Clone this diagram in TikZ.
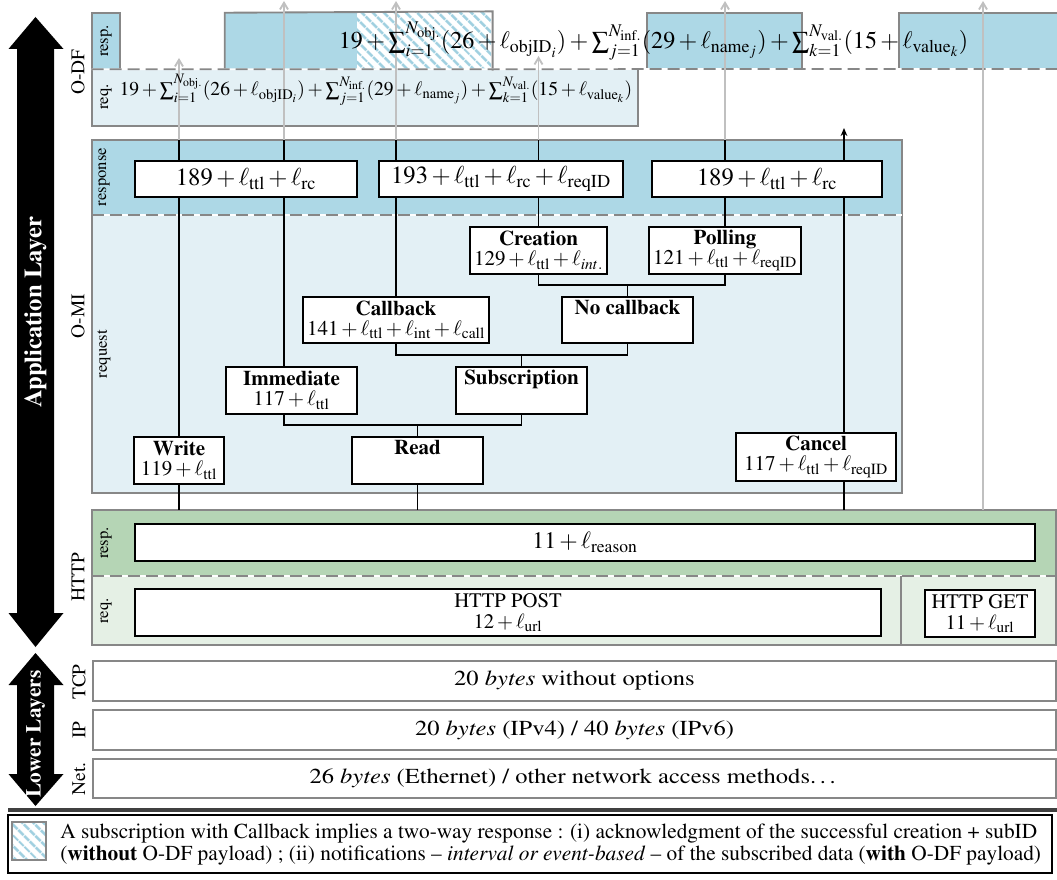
\documentclass[tikz,border=0pt]{standalone}
\usepackage[T1]{fontenc}
\usepackage{mathptmx}
\usetikzlibrary{arrows.meta,patterns.meta}

\definecolor{respblue}{RGB}{173,216,230}
\definecolor{reqblue}{RGB}{227,240,245}
\definecolor{respgreen}{RGB}{181,213,181}
\definecolor{reqgreen}{RGB}{229,240,229}
\definecolor{framegray}{RGB}{135,135,135}
\definecolor{linkgray}{RGB}{192,192,192}
\definecolor{hatchblue}{RGB}{160,208,224}

\newcommand{\ttl}{\ell_{\mathrm{ttl}}}
\newcommand{\rc}{\ell_{\mathrm{rc}}}
\newcommand{\reqid}{\ell_{\mathrm{reqID}}}
\newcommand{\odfsize}{19+\sum_{i=1}^{N_{\mathrm{obj.}}}(26+\ell_{\mathrm{objID}_i})+\sum_{j=1}^{N_{\mathrm{inf.}}}(29+\ell_{\mathrm{name}_j})+\sum_{k=1}^{N_{\mathrm{val.}}}(15+\ell_{\mathrm{value}_k})}
\newcommand{\wide}[1]{\scalebox{1.15}[1]{#1}}

\tikzset{
  x=0.75pt, y=-0.75pt,
  % rectangle given by its corners x1/y1/x2/y2
  span/.style args={#1/#2/#3/#4}{minimum width={(#3-#1)*0.75pt}, minimum height={(#4-#2)*0.75pt},
    at={({(#1+#3)/2},{(#2+#4)/2})}},
  band/.style={inner sep=0, draw=none},
  framed/.style={draw=framegray, line width=1.4pt},
  sep/.style={framegray, line width=1.3pt, dash pattern=on 9pt off 4.5pt},
  sepbg/.style={white, line width=1.3pt},
  msgbox/.style={draw=black, fill=white, line width=1.4pt, inner sep=0, align=center},
  omitext/.style={font=\fontsize{15.75}{15}\selectfont},
  resptext/.style={font=\fontsize{18.5}{20}\selectfont},
  lowbox/.style={draw=framegray, fill=white, line width=1.4pt, inner sep=0, font=\fontsize{16}{18}\selectfont},
  sectlabel/.style={rotate=90, inner sep=0, font=\fontsize{14.5}{16}\selectfont},
  sublabel/.style={rotate=90, inner sep=0, font=\fontsize{12.5}{14}\selectfont},
  conn/.style={black, line width=1.4pt},
  uplink/.style={linkgray, line width=1.4pt, -{Straight Barb[length=5pt,width=6pt]}},
  hatch/.style={pattern={Lines[angle=-45,distance=6.5pt,line width=2.4pt]}, pattern color=hatchblue},
  bigarrow/.style={fill=black, draw=none},
}

\begin{document}
\begin{tikzpicture}
\useasboundingbox (0,0) rectangle (1057,880);

% ---------- layer arrows ----------
\fill[bigarrow] (35.5,17) -- (63.5,49) -- (54,49) -- (54,613) -- (63.5,613) -- (35.5,647)
  -- (8.5,613) -- (17,613) -- (17,49) -- (8.5,49) -- cycle;
\node[rotate=90, text=white, font=\bfseries\fontsize{18.5}{20}\selectfont, inner sep=0] (applayer) at (35.5,312) {Application Layer};
\fill[bigarrow] (35.5,653) -- (63.5,685) -- (54,685) -- (54,774) -- (63.5,774) -- (35.5,806)
  -- (8.5,774) -- (17,774) -- (17,685) -- (8.5,685) -- cycle;
\node[rotate=90, text=white, font=\bfseries\fontsize{16}{18}\selectfont, inner sep=0] (lowlayer) at (35.5,734) {Lower Layers};

% ---------- section labels ----------
\node[sectlabel] (lodf) at (78,72) {O-DF};
\node[sectlabel] (lomi) at (78,316) {O-MI};
\node[sectlabel] (lhttp) at (78,577) {HTTP};
\node[sectlabel] (ltcp) at (79,682) {TCP};
\node[sectlabel] (lip) at (79,730) {IP};
\node[sectlabel] (lnet) at (79,779) {Net.};

% ---------- O-DF ----------
\node[band, fill=reqblue, span=92/69/638/126] (odfreq) {};
\draw[framed] (odfreq.north west) -- (odfreq.south west) -- (odfreq.south east) -- (odfreq.north east);
\node[band, fill=respblue, span=92/13/120/69] (odfa) {};
\node[band, fill=respblue, span=225/13/357/69] (odfb) {};
\node[band, hatch, span=357/13/491/69] (odfh) {};
\node[band, fill=respblue, span=647/13/802/69] (odfc) {};
\node[band, fill=respblue, span=899/13/1057/69] (odfd) {};
\draw[framed] (odfa.south west) -- (odfa.north west) -- (odfa.north east) -- (odfa.south east);
\draw[framed] (odfb.south west) -- (odfb.north west) -- (odfh.north east) -- (odfh.south east);
\draw[framed] (odfc.south west) -- (odfc.north west) -- (odfc.north east) -- (odfc.south east);
\draw[framed] (odfd.south west) -- (odfd.north west) -- (odfd.north east);
\coordinate (odfend) at (1057,69);
\draw[sepbg] (odfa.south west) -- (odfend);
\draw[sep] (odfa.south west) -- (odfend);
\node[sublabel] (odfresplbl) at (106,41) {resp.};
\node[sublabel] (odfreqlbl) at (106,97) {req.};

% ---------- O-MI ----------
\node[band, fill=respblue, span=92/140/902/215] (omiresp) {};
\node[band, fill=reqblue, span=92/215/902/493] (omireq) {};
\draw[framed] (omiresp.north west) rectangle (omireq.south east);
\draw[sepbg] (omireq.north west) -- (omireq.north east);
\draw[sep] (omireq.north west) -- (omireq.north east);
\node[sublabel] (omiresplbl) at (104,177) {response};
\node[sublabel] (omireqlbl) at (104,354) {request};

% ---------- HTTP ----------
\node[band, fill=respgreen, span=92/510/1056/576] (httpresp) {};
\node[band, fill=reqgreen, span=92/576/1056/645] (httpreq) {};
\draw[framed] (httpresp.north west) rectangle (httpreq.south east);
\draw[sepbg] (httpreq.north west) -- (httpreq.north east);
\draw[sep] (httpreq.north west) -- (httpreq.north east);
\coordinate (hdiv) at (901,576);
\draw[framed] (hdiv) -- (hdiv |- httpreq.south);
\node[sublabel] (httpresplbl) at (106,543) {resp.};
\node[sublabel] (httpreqlbl) at (106,611) {req.};

% ---------- O-MI request tree (boxes) ----------
\node[msgbox, omitext, span=134/437/224/484] (write) {\textbf{Write}\\$119+\ttl$};
\node[msgbox, omitext, span=352/437/483/484] (read) {\textbf{Read}\\\strut};
\node[msgbox, omitext, span=736/433/896/481] (cancel) {\textbf{Cancel}\\$117+\ttl+\reqid$};
\node[msgbox, omitext, span=226/367/357/414] (immediate) {\textbf{Immediate}\\$117+\ttl$};
\node[msgbox, omitext, span=456/367/587/414] (subscr) {\textbf{Subscription}\\\strut};
\node[msgbox, omitext, span=303/297/489/343] (callback) {\textbf{Callback}\\$141+\ttl+\ell_{\mathrm{int}}+\ell_{\mathrm{call}}$};
\node[msgbox, omitext, span=562/297/693/343] (nocb) {\textbf{No callback}\\\strut};
\node[msgbox, omitext, span=470/227/607/274] (creation) {\textbf{Creation}\\$129+\ttl+\ell_{int.}$};
\node[msgbox, omitext, span=649/227/801/274] (polling) {\textbf{Polling}\\$121+\ttl+\reqid$};

% x positions of the branches that leave off-centre
\coordinate (ximm) at (284,0);
\coordinate (xcan) at (844,0);
\coordinate (ytop) at (0,1);
\coordinate (ywr) at (0,58);
\coordinate (ycr) at (0,56);
\coordinate (ycan) at (0,128);

% ---------- O-DF links (grey) ----------
\draw[uplink] (write.north |- omiresp.north) -- (write.north |- ywr);
\draw[uplink] (ximm |- omiresp.north) -- (ximm |- ytop);
\draw[uplink] (callback.north |- omiresp.north) -- (callback.north |- ytop);
\draw[uplink] (creation.north |- omiresp.north) -- (creation.north |- ycr);
\draw[uplink] (polling.north |- omiresp.north) -- (polling.north |- ytop);
\coordinate (xget) at (983,0);
\draw[uplink] (xget |- httpresp.north) -- (xget |- ytop);

% ---------- O-MI connectors ----------
\draw[conn] (write.north) -- (write.north |- omiresp.north);
\draw[conn] (ximm |- immediate.north) -- (ximm |- omiresp.north);
\draw[conn] (callback.north) -- (callback.north |- omiresp.north);
\draw[conn] (creation.north) -- (creation.north |- omiresp.north);
\draw[conn] (polling.north) -- (polling.north |- omiresp.north);
\draw[conn, -{Stealth[length=6pt,width=5pt]}] (xcan |- cancel.north) -- (xcan |- ycan);
\coordinate (j1) at (0,285);
\draw[conn] (creation.south) -- (creation.south |- j1) -- (polling.south |- j1) -- (polling.south);
\draw[conn] (nocb.north) -- (nocb.north |- j1);
\coordinate (j2) at (0,355);
\draw[conn] (callback.south) -- (callback.south |- j2) -- (nocb.south |- j2) -- (nocb.south);
\draw[conn] (subscr.north) -- (subscr.north |- j2);
\coordinate (j3) at (0,425);
\draw[conn] (ximm |- immediate.south) -- (ximm |- j3) -- (subscr.south |- j3) -- (subscr.south);
\draw[conn] (read.north) -- (read.north |- j3);
\draw[conn] (write.south) -- (write.south |- httpresp.north);
\draw[conn] (read.south) -- (read.south |- httpresp.north);
\draw[conn] (xcan |- cancel.south) -- (xcan |- httpresp.north);

% ---------- O-MI responses ----------
\node[msgbox, resptext, span=135/161/357/197] (r1) {$189+\ttl+\rc$};
\node[msgbox, resptext, span=379/161/623/197] (r2) {$193+\ttl+\rc+\reqid$};
\node[msgbox, resptext, span=652/161/882/197] (r3) {$189+\ttl+\rc$};

% ---------- O-DF payload sizes ----------
\node[anchor=base, inner sep=0, font=\fontsize{18.1}{22}\selectfont] (odfresptxt) at (653.5,49) {$\odfsize$};
\node[anchor=base, inner sep=0, font=\fontsize{14.7}{16}\selectfont] (odfreqtxt) at (376,96) {$\odfsize$};

% ---------- HTTP messages ----------
\node[msgbox, font=\fontsize{17.8}{19}\selectfont, span=135/524/1035/561] (hresp) {$11+\ell_{\mathrm{reason}}$};
\node[msgbox, font=\fontsize{15.5}{16}\selectfont, span=135/589/881/636] (post) {HTTP POST\\$12+\ell_{\mathrm{url}}$};
\node[msgbox, font=\fontsize{15.5}{16}\selectfont, span=925/590/1035/637] (get) {HTTP GET\\$11+\ell_{\mathrm{url}}$};

% ---------- lower layers ----------
\node[lowbox, span=93/661/1056/701] (tcp) {\wide{20 \textit{bytes} without options}};
\node[lowbox, span=93/710/1056/750] (ip) {\wide{20 \textit{bytes} (IPv4) / 40 \textit{bytes} (IPv6)}};
\node[lowbox, span=93/759/1056/798] (net) {\wide{26 \textit{bytes} (Ethernet) / other network access methods\dots}};

% ---------- legend ----------
\coordinate (barl) at (8,810);
\coordinate (barr) at (1057,810);
\draw[black!75, line width=3.5pt] (barl) -- (barr);
\node[draw=black, line width=1.4pt, fill=white, span=8/815/1052/873] (legend) {};
\node[draw=framegray, line width=1.4pt, hatch, span=12/822/46/860] (swatch) {};
\node[anchor=west, inner sep=0, align=left, font=\fontsize{16}{16.5}\selectfont] (legendtxt) at (60,845)
  {A subscription with Callback implies a two-way response : (i) acknowledgment of the successful creation + subID\\
   (\textbf{without} O-DF payload) ; (ii) notifications -- \textit{interval or event-based} -- of the subscribed data (\textbf{with} O-DF payload)};
\end{tikzpicture}
\end{document}
